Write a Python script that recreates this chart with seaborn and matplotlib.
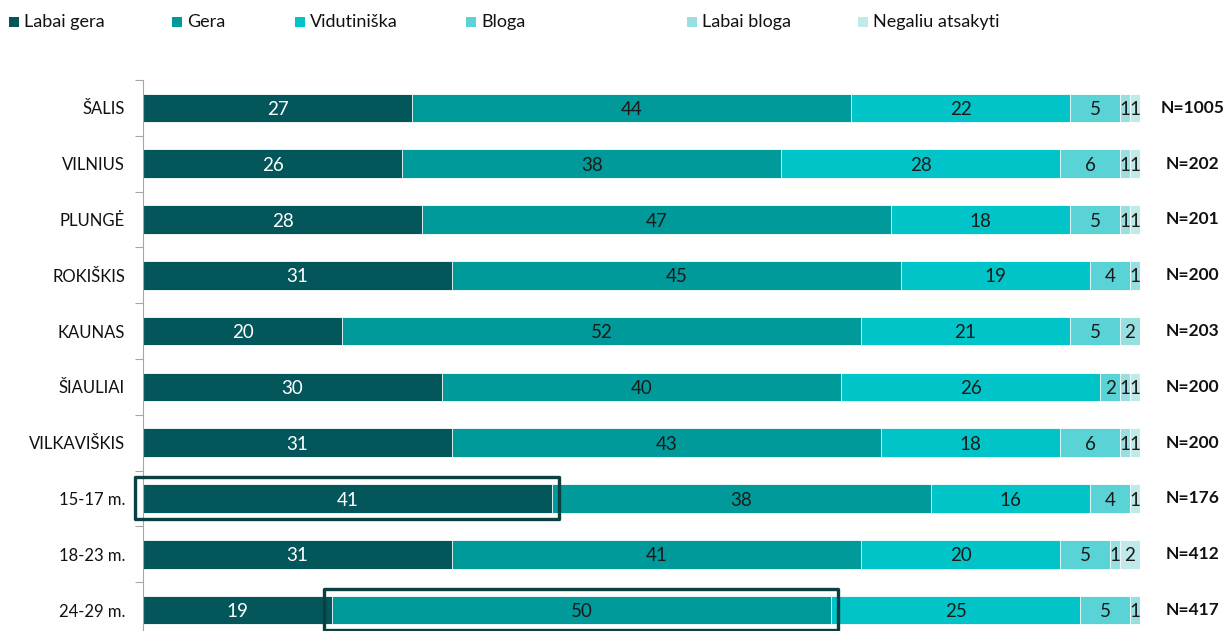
import numpy as np
import pandas as pd
import matplotlib
matplotlib.use("Agg")
import matplotlib.pyplot as plt
import seaborn as sns
from matplotlib.patches import Rectangle

# Survey answers (percent) per group
categories = ["ŠALIS", "VILNIUS", "PLUNGĖ", "ROKIŠKIS", "KAUNAS", "ŠIAULIAI",
              "VILKAVIŠKIS", "15-17 m.", "18-23 m.", "24-29 m."]
sample_sizes = [1005, 202, 201, 200, 203, 200, 200, 176, 412, 417]
labai_gera = [27, 26, 28, 31, 20, 30, 31, 41, 31, 19]
gera = [44, 38, 47, 45, 52, 40, 43, 38, 41, 50]
vidutiniska = [22, 28, 18, 19, 21, 26, 18, 16, 20, 25]
bloga = [5, 6, 5, 4, 5, 2, 6, 4, 5, 5]
labai_bloga = [1, 1, 1, 1, 2, 1, 1, 0, 1, 1]
negaliu = [1, 1, 1, 0, 0, 1, 1, 1, 2, 0]

series_names = ["Labai gera", "Gera", "Vidutiniška", "Bloga", "Labai bloga", "Negaliu atsakyti"]
series_values = [labai_gera, gera, vidutiniska, bloga, labai_bloga, negaliu]
colors = ["#03575b", "#009a9b", "#00c4c8", "#5ad3d6", "#98dfe1", "#c0eaea"]

# Segments to emphasise with an outline: (category, series index)
highlights = [("15-17 m.", 0), ("24-29 m.", 1)]

sns.set_theme(style="white")
plt.rcParams["font.family"] = ["Lato", "DejaVu Sans"]

W, H = 1227, 631
fig = plt.figure(figsize=(W / 100, H / 100), dpi=100)
ax = fig.add_axes([143 / W, 0, 997 / W, 551 / H])

vals = np.array(series_values, dtype=float)
cum = np.cumsum(vals, axis=0)

# Stacked bars: draw cumulative totals from the outermost segment inward
for k in reversed(range(len(series_names))):
    df = pd.DataFrame({"group": categories, "total": cum[k]})
    sns.barplot(data=df, x="total", y="group", order=categories, orient="h",
                color=colors[k], saturation=1, width=0.51,
                edgecolor="white", linewidth=0.6, ax=ax)

# Value labels inside segments and sample sizes on the right
for i in range(len(categories)):
    for k in range(len(series_names)):
        v = vals[k, i]
        if v <= 0:
            continue
        ax.text(cum[k, i] - v / 2, i + 0.03, f"{int(v)}", ha="center", va="center",
                fontsize=13.5, color="white" if k == 0 else "#1a1a1a")
    ax.text(105.3, i, f"N={sample_sizes[i]}", ha="center", va="center",
            fontsize=12.5, fontweight="bold", color="#111111", clip_on=False)

# Outline boxes around highlighted segments
for cat, k in highlights:
    i = categories.index(cat)
    start = cum[k, i] - vals[k, i]
    ax.add_patch(Rectangle((start - 0.8, i - 0.385), vals[k, i] + 1.5, 0.75,
                           fill=False, edgecolor="#0b3f40", linewidth=2.4,
                           joinstyle="round", clip_on=False, zorder=5))

ax.set_xlim(0, 100)
ax.set_ylim(9.375, -0.5)
ax.set_xlabel("")
ax.set_ylabel("")
ax.set_xticks([])
ax.set_yticks(range(len(categories)))
ax.set_yticklabels(categories)
ax.set_yticks(np.arange(-0.5, len(categories) - 0.5, 1), minor=True)
ax.tick_params(axis="y", which="major", length=0, pad=13, labelsize=12, labelcolor="#111111")
ax.tick_params(axis="y", which="minor", left=True, length=5.5, width=0.8, color="#a6a6a6")
for s in ["top", "right", "bottom"]:
    ax.spines[s].set_visible(False)
ax.spines["left"].set_color("#a6a6a6")
ax.spines["left"].set_linewidth(0.8)

# Legend row across the top
legend_x = [9, 172, 295, 466, 687, 858]
for x, name, c in zip(legend_x, series_names, colors):
    fig.patches.append(Rectangle((x / W, 1 - 27 / H), 10 / W, 10 / H,
                                 transform=fig.transFigure, facecolor=c,
                                 edgecolor="none", figure=fig))
    fig.text((x + 15) / W, 1 - 22 / H, name, ha="left", va="center",
             fontsize=13, color="#111111")

fig.savefig("out.png", dpi=100)
